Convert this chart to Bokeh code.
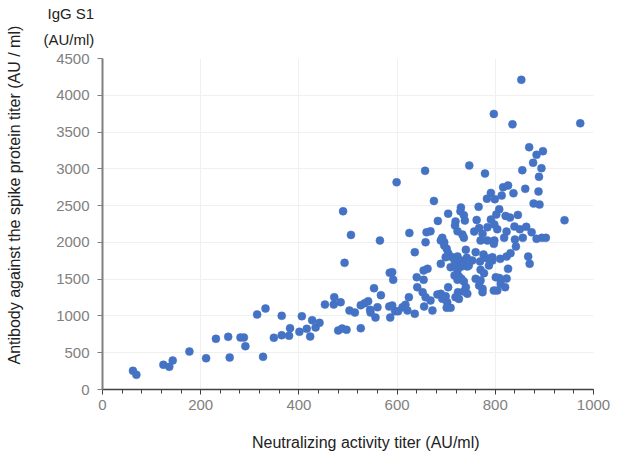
from bokeh.plotting import figure
from bokeh.models import FixedTicker, Range1d, Title
from bokeh.embed import file_html
from bokeh.resources import INLINE

# Neutralizing activity titer (AU/ml)
neutralizing = [
    62, 69, 124, 136, 143, 177, 211, 231, 256, 259, 281, 288, 291, 315, 327, 332, 349,
    365, 365, 380, 382, 401, 406, 416, 423, 427, 434, 442, 453, 471, 472, 485, 480, 488,
    497, 493, 503, 514, 526, 526, 534, 541, 545, 546, 553, 556, 560, 567, 584, 586, 585,
    590, 592, 596,
    490, 506, 565, 599, 625, 657,
    747, 779, 675, 783, 730, 704, 729, 736, 766, 683, 719, 738, 762, 718, 791, 660, 668,
    723, 733, 757, 767, 784, 774, 692, 658, 696, 736, 770, 784,
    884, 897, 877, 894, 855, 889, 816, 826, 861, 888, 791, 837, 813, 799, 878, 890, 941,
    808, 846, 821, 830, 802, 798, 863, 839, 850, 804, 874, 823, 856, 818, 884, 895, 903,
    840, 798,
    853, 797, 835, 973, 869,
    797, 842, 794, 810, 823, 831, 867, 870, 826, 801, 808, 823, 811, 820, 797, 804,
    689, 696, 701, 704, 709, 699, 709, 719, 723, 717, 730, 731, 736, 742, 740, 753, 760,
    769, 776, 783, 787, 794, 743, 746, 723, 717, 726, 731, 736, 770, 777, 760, 770, 767,
    774, 774, 740, 736, 743, 724, 719, 704, 699, 702, 709, 701, 689, 682, 692, 668, 672,
    655, 658, 652, 641, 640, 654, 662, 654, 636, 624, 621, 611, 617,
    636, 602, 590, 726, 723, 689,
]

# IgG S1 antibody titer (AU/ml)
igg_s1 = [
    254, 200, 336, 308, 394, 516, 425, 689, 716, 435, 707, 707, 589, 1020, 444, 1101, 703,
    1001, 738, 730, 833, 784, 996, 825, 720, 942, 843, 906, 1155, 1155, 1255, 1187, 802, 829,
    811, 1722, 1073, 1046, 1146, 833, 1173, 1200, 1083, 1046, 1377, 978, 1119, 1282, 1128, 978, 1586,
    1595, 1491, 1064,
    2423, 2102, 2025, 2818, 2128, 2973,
    3045, 2936, 2564, 2594, 2474, 2391, 2423, 2369, 2483, 2292, 2283, 2296, 2305, 2228, 2310, 2137, 2151,
    2151, 2106, 2147, 2197, 2206, 2116, 2062, 2002, 2002, 2062, 2025, 2025,
    3190, 3240, 3082, 3009, 2981, 2891, 2750, 2773, 2728, 2691, 2673, 2668, 2636, 2587, 2528, 2514, 2301,
    2450, 2374, 2360, 2337, 2378, 2243, 2211, 2216, 2179, 2179, 2137, 2147, 2062, 2062, 2048, 2062, 2062,
    2039, 2025,
    4210, 3746, 3605, 3619, 3294,
    1980, 1943, 1798, 1776, 1807, 1853, 1807, 1708, 1640, 1526, 1517, 1508, 1436, 1391, 1345, 1345,
    2026, 1958, 1913, 1853, 1808, 1799, 1663, 1686, 1808, 1754, 1754, 1672, 1709, 1790, 1899, 1754, 1867,
    1740, 1835, 1785, 1686, 1754, 1672, 1686, 1618, 1550, 1536, 1505, 1468, 1627, 1581, 1505, 1482, 1414,
    1369, 1323, 1391, 1332, 1301, 1323, 1255, 1391, 1268, 1187, 1111, 1111, 1301, 1291, 1233, 1210, 1074,
    1128, 1255, 1323, 1391, 1527, 1618, 1641, 1491, 1029, 1255, 1074, 1119, 1151,
    1866, 1064, 1141, 1232, 1491, 1708,
]

x_ticks = [0, 200, 400, 600, 800, 1000]
x_minor_ticks = list(range(0, 1001, 40))
y_ticks = [0, 500, 1000, 1500, 2000, 2500, 3000, 3500, 4000, 4500]

title_lines = ["IgG S1", "(AU/ml)"]
x_label = "Neutralizing activity titer (AU/ml)"
y_label = "Antibody against the spike protein titer (AU / ml)"

FONT = "Liberation Sans"
NBSP = "\u00a0"

p = figure(
    width=624, height=456, output_backend="svg", toolbar_location=None,
    x_range=Range1d(0, 1000), y_range=Range1d(0, 4500),
    min_border_left=102, min_border_right=31, min_border_top=58, min_border_bottom=67,
)
p.title = None
p.outline_line_color = None
p.background_fill_color = "white"
p.border_fill_color = "white"

p.scatter(neutralizing, igg_s1, size=8, fill_color="#4472C4", line_color="#4472C4",
          line_width=0.5)

p.xaxis.ticker = FixedTicker(ticks=x_ticks, minor_ticks=x_minor_ticks)
p.yaxis.ticker = FixedTicker(ticks=y_ticks, minor_ticks=[])
p.xgrid.ticker = FixedTicker(ticks=x_ticks)
p.ygrid.ticker = FixedTicker(ticks=y_ticks)
p.xgrid.grid_line_color = "#f0f0f0"
p.ygrid.grid_line_color = "#f0f0f0"

for ax in (p.xaxis[0], p.yaxis[0]):
    ax.major_label_text_font = FONT
    ax.major_label_text_font_size = "15px"
    ax.major_label_text_color = "#808080"
    ax.major_tick_in = 0
    ax.minor_tick_in = 0
    ax.axis_label_text_font = FONT
    ax.axis_label_text_font_size = "16px"
    ax.axis_label_text_font_style = "normal"
    ax.axis_label_text_color = "#222222"

p.xaxis.axis_label = NBSP * 8 + x_label
p.xaxis.axis_label_standoff = 21
p.xaxis.axis_line_color = "#404040"
p.xaxis.axis_line_width = 1.5
p.xaxis.major_tick_line_color = "#404040"
p.xaxis.minor_tick_line_color = "#404040"
p.xaxis.major_tick_out = 5
p.xaxis.minor_tick_out = 4
p.xaxis.major_label_standoff = 5

p.yaxis.axis_label = NBSP * 13 + y_label
p.yaxis.axis_label_standoff = 30
p.yaxis.axis_line_color = "#808080"
p.yaxis.axis_line_width = 2
p.yaxis.major_tick_line_color = "#808080"
p.yaxis.major_tick_out = 5
p.yaxis.minor_tick_line_color = None
p.yaxis.major_label_standoff = 8

title_style = dict(align="left", text_font=FONT, text_font_size="15px",
                   text_font_style="normal", text_color="#222222")
p.add_layout(Title(text=title_lines[1], offset=-59, standoff=17,
                   vertical_align="top", **title_style), "above")
p.add_layout(Title(text=title_lines[0], offset=-55, standoff=2, **title_style), "above")

open("out.html", "w").write(file_html(p, INLINE))
